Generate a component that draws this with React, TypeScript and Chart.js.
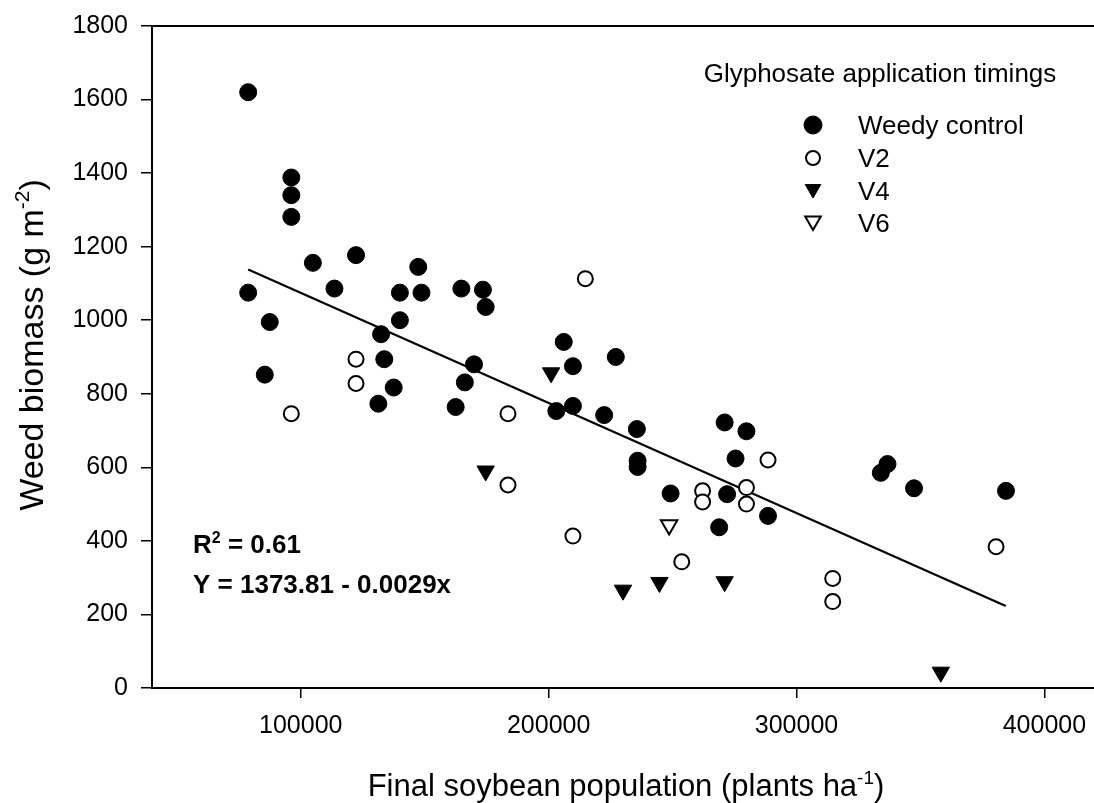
import React, { useEffect, useRef } from "react";
import { Chart, registerables } from "chart.js";
import { drawPoint } from "chart.js/helpers";

Chart.register(...registerables);

const FAMILY = "'Liberation Sans', Arial, Helvetica, sans-serif";

// ---- data ----
const seriesLabels = ["Weedy control", "V2", "V4", "V6"];
const legendTitle = "Glyphosate application timings";

const weedyX = [78800, 96200, 96200, 96200, 104900, 122300, 78800, 113600, 147400, 140000, 148700, 164800, 173500, 174600, 87500, 140000, 132400, 133700, 85500, 137500, 169900, 166200, 131300, 162500, 206100, 227100, 209800, 203100, 209800, 222400, 235600, 235900, 235900, 271000, 279800, 275400, 249200, 272000, 288500, 268800, 336700, 334000, 347400, 384500];
const weedyY = [1620, 1388, 1340, 1281, 1156, 1177, 1075, 1086, 1145, 1075, 1075, 1086, 1083, 1036, 995, 1000, 962, 894, 852, 817, 880, 831, 773, 764, 941, 900, 875, 753, 767, 742, 704, 618, 601, 722, 698, 624, 529, 527, 468, 437, 609, 585, 543, 536];

const v2X = [122300, 122300, 96200, 214800, 183600, 183600, 288500, 262100, 262100, 279800, 279800, 209800, 253700, 314600, 314600, 380500];
const v2Y = [894, 828, 746, 1113, 746, 552, 620, 536, 506, 545, 500, 413, 343, 298, 235, 384];

const v4X = [201000, 174600, 230000, 244700, 271000, 358200];
const v4Y = [857, 590, 266, 287, 289, 43];

const v6X = [248600];
const v6Y = [443];

const fitX = [78800, 384400];
const fitY = [1138, 223];

const xTicks = [100000, 200000, 300000, 400000];
const yTicks = [0, 200, 400, 600, 800, 1000, 1200, 1400, 1600, 1800];

const r2Text = "0.61";
const eqText = "Y = 1373.81 - 0.0029x";

const toPts = (xs: number[], ys: number[]) => xs.map((x, i) => ({ x, y: ys[i] }));

type Part = [string, boolean];

function drawRich(
  ctx: CanvasRenderingContext2D,
  parts: Part[],
  x: number,
  y: number,
  align: "left" | "center",
  size: number,
  weight: string
) {
  const supSize = Math.round(size * 0.62);
  const fMain = `${weight} ${size}px ${FAMILY}`;
  const fSup = `${weight} ${supSize}px ${FAMILY}`;
  let total = 0;
  const widths = parts.map(([t, sup]) => {
    ctx.font = sup ? fSup : fMain;
    const w = ctx.measureText(t).width;
    total += w;
    return w;
  });
  let cx = align === "center" ? x - total / 2 : x;
  ctx.textAlign = "left";
  ctx.textBaseline = "alphabetic";
  parts.forEach(([t, sup], i) => {
    ctx.font = sup ? fSup : fMain;
    ctx.fillText(t, cx, sup ? y - size * 0.4 : y);
    cx += widths[i];
  });
}

const overlay = {
  id: "overlay",
  afterDraw(chart: any) {
    const ctx: CanvasRenderingContext2D = chart.ctx;
    const { left, right, top } = chart.chartArea;
    ctx.save();
    // top frame line
    ctx.strokeStyle = "#000";
    ctx.lineWidth = 2;
    ctx.beginPath();
    ctx.moveTo(left - 1, top);
    ctx.lineTo(right, top);
    ctx.stroke();

    ctx.fillStyle = "#000";
    // axis titles
    drawRich(ctx, [["Final soybean population (plants ha", false], ["-1", true], [")", false]], 626, 796, "center", 31, "normal");
    ctx.save();
    ctx.translate(43, 345);
    ctx.rotate(-Math.PI / 2);
    drawRich(ctx, [["Weed biomass (g m", false], ["-2", true], [")", false]], 0, 0, "center", 34, "normal");
    ctx.restore();

    // regression annotation
    drawRich(ctx, [["R", false], ["2", true], [" = " + r2Text, false]], 193, 553, "left", 26, "bold");
    drawRich(ctx, [[eqText, false]], 193, 593, "left", 26, "bold");

    // legend
    drawRich(ctx, [[legendTitle, false]], 880, 82, "center", 26, "normal");
    const rows = [125, 158, 191, 223];
    const styles = [
      { pointStyle: "circle", radius: 9, rotation: 0, borderWidth: 1, fill: "#000" },
      { pointStyle: "circle", radius: 7, rotation: 0, borderWidth: 2, fill: "#fff" },
      { pointStyle: "triangle", radius: 9, rotation: 180, borderWidth: 1, fill: "#000" },
      { pointStyle: "triangle", radius: 9, rotation: 180, borderWidth: 2, fill: "#fff" },
    ];
    seriesLabels.forEach((lab, i) => {
      const st = styles[i];
      const cy = st.pointStyle === "triangle" ? rows[i] - 2 : rows[i];
      ctx.fillStyle = st.fill;
      ctx.strokeStyle = "#000";
      ctx.lineWidth = st.borderWidth;
      drawPoint(ctx, { pointStyle: st.pointStyle as any, radius: st.radius, rotation: st.rotation, borderWidth: st.borderWidth }, 813, cy);
      ctx.fillStyle = "#000";
      drawRich(ctx, [[lab, false]], 858, rows[i] + 9, "left", 26, "normal");
    });
    ctx.restore();
  },
};

export default function App() {
  const ref = useRef<HTMLCanvasElement | null>(null);
  useEffect(() => {
    if (!ref.current) return;
    const tickFont = { size: 25, family: FAMILY };
    const chart = new Chart(ref.current, {
      type: "scatter",
      data: {
        datasets: [
          {
            label: seriesLabels[0],
            data: toPts(weedyX, weedyY),
            pointStyle: "circle",
            pointRadius: 8.5,
            backgroundColor: "#000",
            borderColor: "#000",
            borderWidth: 1,
            order: 1,
          },
          {
            label: seriesLabels[1],
            data: toPts(v2X, v2Y),
            pointStyle: "circle",
            pointRadius: 7.5,
            backgroundColor: "#fff",
            borderColor: "#000",
            borderWidth: 2,
            order: 1,
          },
          {
            label: seriesLabels[2],
            data: toPts(v4X, v4Y),
            pointStyle: "triangle",
            pointRotation: 180,
            pointRadius: 10,
            backgroundColor: "#000",
            borderColor: "#000",
            borderWidth: 1,
            order: 1,
          },
          {
            label: seriesLabels[3],
            data: toPts(v6X, v6Y),
            pointStyle: "triangle",
            pointRotation: 180,
            pointRadius: 9.5,
            backgroundColor: "#fff",
            borderColor: "#000",
            borderWidth: 2,
            order: 1,
          },
          {
            type: "line",
            label: "fit",
            data: toPts(fitX, fitY),
            borderColor: "#000",
            borderWidth: 2.2,
            pointRadius: 0,
            fill: false,
            order: 10,
          } as any,
        ],
      },
      options: {
        animation: false,
        responsive: false,
        layout: { autoPadding: false, padding: { top: 26, left: 0, right: 0, bottom: 0 } },
        plugins: { legend: { display: false }, tooltip: { enabled: false } },
        scales: {
          x: {
            type: "linear",
            min: 40000,
            max: 420000,
            afterBuildTicks: (s: any) => {
              s.ticks = xTicks.map((v) => ({ value: v }));
            },
            afterFit: (s: any) => {
              s.height = 115;
              s.paddingLeft = 0;
              s.paddingRight = 0;
            },
            ticks: {
              callback: (v: any) => String(v),
              font: tickFont,
              color: "#000",
              padding: 13,
              maxRotation: 0,
              autoSkip: false,
            },
            grid: { drawOnChartArea: false, drawTicks: true, tickLength: 10, color: "#000", lineWidth: 1.5 },
            border: { display: true, color: "#000", width: 2 },
          },
          y: {
            type: "linear",
            min: 0,
            max: 1800,
            afterBuildTicks: (s: any) => {
              s.ticks = yTicks.map((v) => ({ value: v }));
            },
            afterFit: (s: any) => {
              s.width = 152;
              s.paddingTop = 0;
              s.paddingBottom = 0;
            },
            ticks: {
              callback: (v: any) => String(v),
              font: tickFont,
              color: "#000",
              padding: 13,
              autoSkip: false,
            },
            grid: { drawOnChartArea: false, drawTicks: true, tickLength: 11, color: "#000", lineWidth: 1.5 },
            border: { display: true, color: "#000", width: 2 },
          },
        },
      },
      plugins: [overlay],
    });
    return () => chart.destroy();
  }, []);
  return (
    <div style={{ position: "fixed", left: 0, top: 0, width: 1094, height: 803, background: "#fff" }}>
      <canvas ref={ref} width={1094} height={803} style={{ display: "block" }} />
    </div>
  );
}
